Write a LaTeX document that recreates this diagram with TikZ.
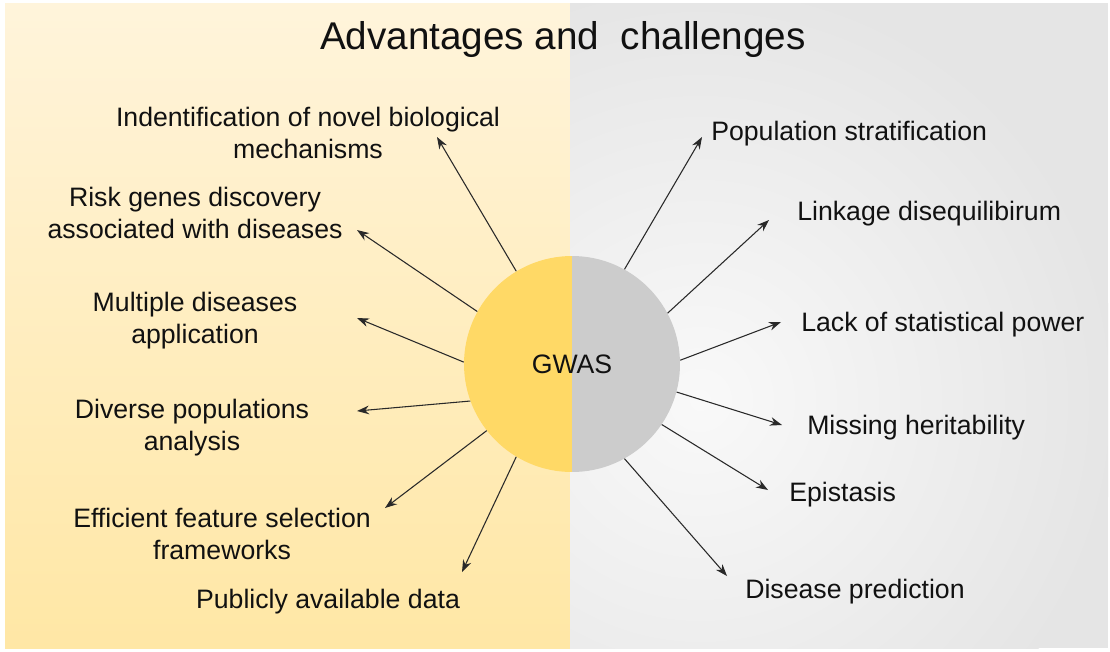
\documentclass[tikz,border=0pt]{standalone}
\usepackage{fontspec}
\setmainfont{Liberation Sans}
\usetikzlibrary{arrows.meta}
\definecolor{bgtop}{HTML}{FFF4DB}
\definecolor{bgbot}{HTML}{FFE7A5}
\definecolor{grayout}{HTML}{E5E5E5}
\definecolor{grayin}{HTML}{F9F9F9}
\definecolor{circY}{HTML}{FFD966}
\definecolor{circG}{HTML}{CCCCCC}
\definecolor{ink}{HTML}{111111}
\tikzset{
  arr/.style={-{Stealth[length=9pt,width=6.5pt]}, line width=0.8pt, draw=ink!90},
  lbl/.style={font=\fontsize{20}{24}\selectfont, text=ink, align=center, inner sep=0pt},
  rlbl/.style={lbl, anchor=west, align=left},
}
\begin{document}
\begin{tikzpicture}[x=0.75pt,y=-0.75pt]
\useasboundingbox[fill=white] (0,0) rectangle (1110,651);
% backgrounds
\shade[top color=bgtop, bottom color=bgbot] (5,3) rectangle (570,648);
\begin{scope}
  \clip (570,3) rectangle (1108,648);
  \fill[grayout] (570,3) rectangle (1108,648);
  \shade[inner color=grayin, outer color=grayout] (700,400) circle (420);
\end{scope}
% title
\node[font=\fontsize{29}{34}\selectfont, text=ink, inner sep=0pt] (title) at (563,39) {Advantages and\ \ challenges};
% circle
\node[circle, minimum size=162pt, inner sep=0pt, font=\fontsize{20}{24}\selectfont, text=ink,
  path picture={
    \fill[circY] (path picture bounding box.south west) rectangle (path picture bounding box.north);
    \fill[circG] (path picture bounding box.south) rectangle (path picture bounding box.north east);
  }] (gwas) at (572,364) {GWAS};
% left labels
\node[lbl] (l1) at (308,133) {Indentification of novel biological\\mechanisms};
\node[lbl] (l2) at (195,213) {Risk genes discovery\\associated with diseases};
\node[lbl] (l3) at (195,321) {Multiple diseases\\application};
\node[lbl] (l4) at (192,428) {Diverse populations\\analysis};
\node[lbl] (l5) at (222,534) {Efficient feature selection\\frameworks};
\node[lbl] (l6) at (328,602) {Publicly available data};
% right labels
\node[rlbl] (r1) at (711,134) {Population stratification};
\node[rlbl] (r2) at (797,214) {Linkage disequilibirum};
\node[rlbl] (r3) at (801,325) {Lack of statistical power};
\node[rlbl] (r4) at (807,428) {Missing heritability};
\node[rlbl] (r5) at (789,495) {Epistasis};
\node[rlbl] (r6) at (745,592) {Disease prediction};
% arrow ends
\coordinate (el1) at (437,137);
\coordinate (el2) at (357,230);
\coordinate (el3) at (357,318);
\coordinate (el4) at (357,411);
\coordinate (el5) at (385,508);
\coordinate (el6) at (462,572);
\coordinate (er1) at (702,137);
\coordinate (er2) at (769,220);
\coordinate (er3) at (781,322);
\coordinate (er4) at (782,425);
\coordinate (er5) at (768,490);
\coordinate (er6) at (727,576);
% arrows
\draw[arr] (gwas.121.5) -- (el1);
\draw[arr] (gwas.151) -- (el2);
\draw[arr] (gwas.179.5) -- (el3);
\draw[arr] (gwas.200.7) -- (el4);
\draw[arr] (gwas.218.9) -- (el5);
\draw[arr] (gwas.239.7) -- (el6);
\draw[arr] (gwas.61.7) -- (er1);
\draw[arr] (gwas.28.7) -- (er2);
\draw[arr] (gwas.2) -- (er3);
\draw[arr] (gwas.-15) -- (er4);
\draw[arr] (gwas.-34.3) -- (er5);
\draw[arr] (gwas.-61.8) -- (er6);
\end{tikzpicture}
\end{document}
